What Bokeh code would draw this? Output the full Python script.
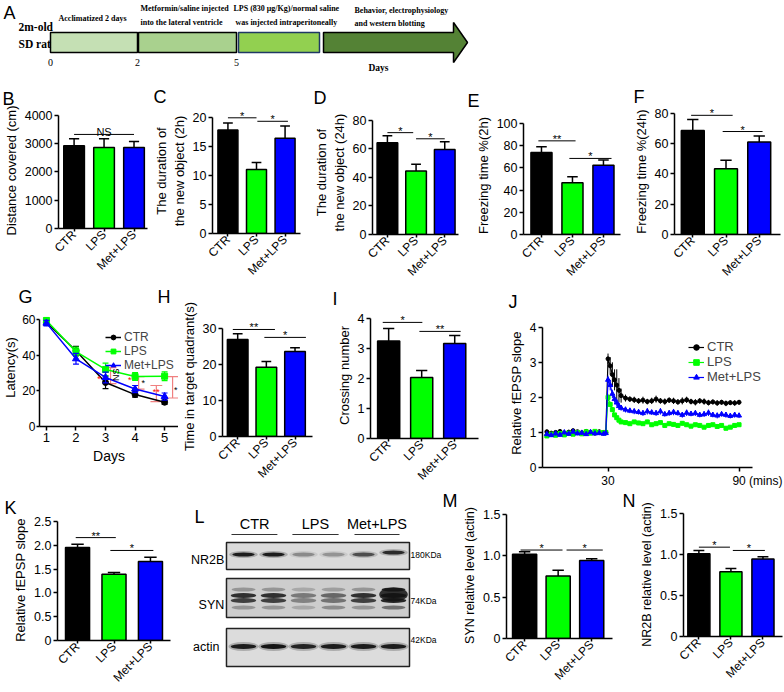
import math
from bokeh.plotting import figure
from bokeh.models import (Range1d, FixedTicker, Legend, LegendItem,
                          ColumnDataSource, CustomJSTickFormatter)
from bokeh.layouts import row, column
from bokeh.core.properties import value
from bokeh.embed import file_html
from bokeh.resources import INLINE

# ---------------------------------------------------------------- data
groups = ["CTR", "LPS", "Met+LPS"]
group_colors = ["#000000", "#00ff00", "#0000ff"]

B_mean = [2930, 2870, 2870]
B_err = [250, 310, 210]
B_sig_x0 = [1.0]; B_sig_x1 = [3.0]; B_sig_y = [3330]; B_sig_txt = ["NS"]

C_mean = [17.8, 11.0, 16.4]
C_err = [1.2, 1.2, 2.1]
C_sig_x0 = [1.0, 2.03]; C_sig_x1 = [2.0, 3.1]; C_sig_y = [19.9, 19.3]; C_sig_txt = ["*", "*"]

D_mean = [64.3, 44.4, 59.5]
D_err = [4.8, 4.8, 5.5]
D_sig_x0 = [1.0, 2.0]; D_sig_x1 = [1.9, 3.0]; D_sig_y = [71.3, 67.0]; D_sig_txt = ["*", "*"]

E_mean = [73.7, 46.5, 62.3]
E_err = [5.3, 5.5, 4.7]
E_sig_x0 = [0.9, 1.9]; E_sig_x1 = [2.1, 3.26]; E_sig_y = [84.2, 68.4]; E_sig_txt = ["**", "*"]

F_mean = [68.7, 43.4, 61.0]
F_err = [7.3, 5.6, 4.0]
F_sig_x0 = [0.95, 1.9]; F_sig_x1 = [2.2, 3.1]; F_sig_y = [78.7, 68.0]; F_sig_txt = ["*", "*"]

days = [1, 2, 3, 4, 5]
G_ctr = [58.3, 42.5, 24.7, 17.9, 13.6]
G_ctr_err = [1.5, 2.5, 3.5, 1.5, 1.2]
G_lps = [59.5, 42.0, 32.0, 28.0, 28.2]
G_lps_err = [1.5, 2.5, 3.5, 2.2, 2.5]
G_met = [58.0, 38.0, 27.5, 21.0, 16.8]
G_met_err = [1.5, 3.0, 3.0, 2.0, 2.0]
G_br_x = [3.17, 4.12, 4.72, 5.27]
G_br_lo = [24.0, 21.0, 14.0, 16.0]
G_br_hi = [33.0, 28.0, 23.0, 28.0]
G_red_x = [2.78, 3.82, 4.72]; G_red_y = [26.5, 26.0, 19.5]; G_red_txt = ["*", "*", "**"]
G_blk_x = [3.36, 4.28, 5.38]; G_blk_y = [29.0, 24.5, 20.5]; G_blk_txt = ["NS", "*", "*"]

H_mean = [26.9, 19.2, 23.6]
H_err = [1.6, 1.6, 1.0]
H_sig_x0 = [0.83, 1.93]; H_sig_x1 = [2.3, 3.38]; H_sig_y = [29.7, 27.5]; H_sig_txt = ["**", "*"]

I_mean = [3.25, 2.03, 3.17]
I_err = [0.42, 0.24, 0.26]
I_sig_x0 = [0.82, 1.93]; I_sig_x1 = [2.02, 3.18]; I_sig_y = [3.87, 3.57]; I_sig_txt = ["*", "**"]

J_t = [2, 4, 6, 8, 10, 12, 14, 16, 18, 20, 22, 24, 26, 28, 29, 30, 31, 32, 33, 34, 35, 36,
       38, 40, 42, 44, 46, 48, 50, 52, 54, 56, 58, 60, 62, 64, 66, 68, 70, 72, 74, 76, 78,
       80, 82, 84, 86, 88, 90]
J_ctr = [1.02, 0.98, 1.00, 1.03, 0.97, 1.01, 1.05, 1.02, 0.99, 1.03, 1.00, 0.98, 1.02, 1.00,
         1.00, 3.10, 2.90, 2.65, 2.50, 2.35, 2.20, 2.05,
         1.98, 1.95, 1.93, 1.90, 1.92, 1.88, 1.90, 1.95, 1.90, 1.88, 1.92, 1.90, 1.87, 1.90,
         1.93, 1.88, 1.86, 1.90, 1.88, 1.85, 1.87, 1.84, 1.86, 1.83, 1.85, 1.84, 1.86]
J_ctr_err = [0.06, 0.05, 0.06, 0.05, 0.06, 0.05, 0.06, 0.05, 0.06, 0.05, 0.06, 0.05, 0.06, 0.05,
             0.05, 0.15, 0.25, 0.35, 0.30, 0.45, 0.35, 0.20,
             0.10, 0.08, 0.09, 0.08, 0.10, 0.08, 0.09, 0.10, 0.08, 0.09, 0.08, 0.09, 0.08, 0.10,
             0.09, 0.08, 0.09, 0.08, 0.09, 0.08, 0.07, 0.08, 0.07, 0.08, 0.07, 0.08, 0.07]
J_lps = [0.90, 0.95, 0.92, 0.97, 0.93, 0.98, 0.95, 1.00, 0.96, 1.02, 0.98, 1.03, 1.00, 0.99,
         1.00, 2.00, 1.80, 1.65, 1.50, 1.42, 1.35, 1.30,
         1.28, 1.25, 1.30, 1.27, 1.25, 1.30, 1.22, 1.25, 1.28, 1.20, 1.25, 1.23, 1.20, 1.26,
         1.22, 1.18, 1.22, 1.20, 1.15, 1.20, 1.22, 1.17, 1.20, 1.12, 1.15, 1.20, 1.22]
J_lps_err = [0.05, 0.06, 0.05, 0.06, 0.05, 0.06, 0.05, 0.06, 0.05, 0.06, 0.05, 0.06, 0.05, 0.06,
             0.05, 0.10, 0.08, 0.07, 0.06, 0.06, 0.05, 0.05,
             0.05, 0.06, 0.05, 0.06, 0.05, 0.06, 0.05, 0.06, 0.05, 0.06, 0.05, 0.06, 0.05, 0.06,
             0.05, 0.06, 0.05, 0.06, 0.05, 0.06, 0.05, 0.06, 0.05, 0.06, 0.05, 0.06, 0.05]
J_met = [0.95, 0.92, 0.97, 0.93, 1.00, 0.96, 1.02, 0.97, 0.99, 0.95, 1.01, 0.97, 0.98, 0.96,
         0.98, 2.50, 2.35, 2.10, 1.95, 1.85, 1.75, 1.70,
         1.65, 1.62, 1.60, 1.58, 1.55, 1.60, 1.57, 1.55, 1.60, 1.52, 1.55, 1.58, 1.55, 1.50,
         1.56, 1.53, 1.55, 1.50, 1.52, 1.56, 1.50, 1.48, 1.52, 1.50, 1.47, 1.50, 1.48]
J_met_err = [0.06, 0.05, 0.06, 0.05, 0.06, 0.05, 0.06, 0.05, 0.06, 0.05, 0.06, 0.05, 0.06, 0.05,
             0.05, 0.12, 0.15, 0.12, 0.10, 0.10, 0.09, 0.08,
             0.08, 0.07, 0.08, 0.07, 0.08, 0.09, 0.07, 0.08, 0.09, 0.07, 0.08, 0.09, 0.07, 0.08,
             0.09, 0.07, 0.08, 0.07, 0.08, 0.09, 0.07, 0.08, 0.07, 0.08, 0.07, 0.08, 0.07]
J_ticks = [30, 90]

K_mean = [1.95, 1.39, 1.66]
K_err = [0.07, 0.04, 0.09]
K_sig_x0 = [0.95, 1.9]; K_sig_x1 = [2.05, 3.08]; K_sig_y = [2.16, 1.89]; K_sig_txt = ["**", "*"]

lanes = [1, 2, 3, 4, 5, 6]
blot_rows = ["NR2B", "SYN", "actin"]
blot_kda = ["180KDa", "74KDa", "42KDa"]
NR2B_int = [0.95, 0.95, 0.35, 0.30, 0.65, 0.85]
SYN_upper = [0.30, 0.30, 0.20, 0.25, 0.30, 0.90]
SYN_main = [0.85, 0.85, 0.45, 0.55, 0.85, 1.00]
SYN_lower = [0.30, 0.30, 0.20, 0.35, 0.30, 0.50]
actin_int = [0.95, 1.00, 0.90, 0.95, 0.95, 0.95]

M_mean = [1.02, 0.756, 0.944]
M_err = [0.03, 0.068, 0.02]
M_sig_x0 = [0.88, 2.25]; M_sig_x1 = [2.13, 3.33]; M_sig_y = [1.07, 1.07]; M_sig_txt = ["*", "*"]

N_mean = [1.01, 0.79, 0.945]
N_err = [0.04, 0.04, 0.028]
N_sig_x0 = [1.0, 2.06]; N_sig_x1 = [1.97, 3.06]; N_sig_y = [1.09, 1.05]; N_sig_txt = ["*", "*"]

# timeline (panel A) - schematic stages
stage_x0 = [50, 138, 238]
stage_x1 = [137, 236, 319]
stage_fill = ["#c5e0b4", "#a9d18e", "#92d050"]
stage_line = ["#000000", "#000000", "#1f3864"]
day_marks = ["0", "2", "5"]
stage_text = ["Acclimatized  2 days", "Metformin/saline  injected", "into the lateral ventricle",
              "LPS (830 \u03bcg/Kg)/normal  saline", "was injected intraperitoneally",
              "Behavior, electrophysiology", "and western blotting"]

# ---------------------------------------------------------------- helpers
FONT = "Liberation Sans"
NB = "\u00a0"
LETTER_PX = 18
LETTER_W = {"B": 12, "C": 13, "D": 13, "E": 12, "F": 11, "H": 13, "I": 5, "J": 9, "K": 12,
            "M": 15, "N": 13}


def make_fig(fig_box, frame_box, xrng, yrng, axes=True):
    xl, xr, yt, yb = fig_box
    fl, fr, ft, fb = frame_box
    kw = {}
    if not axes:
        kw = dict(x_axis_type=None, y_axis_type=None)
    p = figure(width=xr - xl, height=yb - yt,
               x_range=Range1d(*xrng), y_range=Range1d(*yrng),
               output_backend="svg", toolbar_location=None, tools="",
               min_border_left=fl - xl, min_border_right=xr - fr,
               min_border_top=ft - yt, min_border_bottom=yb - fb, **kw)
    p.outline_line_color = None
    p.frame_align = False
    if axes:
        p.xgrid.visible = False
        p.ygrid.visible = False
    return p


def style_axes(p, xlabel=None, ylabel=None, tick_fs="12.5px", ylabel_fs="13px"):
    for ax in (p.xaxis[0], p.yaxis[0]):
        ax.axis_line_color = "black"
        ax.axis_line_width = 1.5
        ax.major_tick_line_color = "black"
        ax.major_tick_line_width = 1.5
        ax.major_tick_in = 0
        ax.major_tick_out = 4
        ax.minor_tick_line_color = None
        ax.major_label_text_font = FONT
        ax.major_label_text_font_size = tick_fs
        ax.major_label_text_color = "black"
        ax.major_label_standoff = 2
        ax.axis_label_text_font = FONT
        ax.axis_label_text_font_size = "13px"
        ax.axis_label_text_font_style = "normal"
        ax.axis_label_text_color = "black"
        ax.axis_label_standoff = 3
    p.yaxis.axis_label_text_font_size = ylabel_fs
    p.xaxis.axis_label = xlabel
    p.yaxis.axis_label = ylabel


def set_letter(p, fig_box, frame_box, txt, lx, ltop, right_w=None):
    """Panel letter as a right-aligned title; lx/ltop = left/cap-top of the letter."""
    xl, xr, yt, yb = fig_box
    fl, fr, ft, fb = frame_box
    w = right_w if right_w is not None else LETTER_W[txt]
    border = ft - yt
    p.title.text = txt
    p.title.text_font = FONT
    p.title.text_font_size = "%dpx" % LETTER_PX
    p.title.text_font_style = "normal"
    p.title.text_color = "black"
    p.title.align = "right"
    p.title.vertical_align = "top"
    p.title.offset = fr - (lx + w)
    want = 2 * (ft - 18.6 - ltop)
    p.title.standoff = int(max(0, min(want, border - 22)))


def add_sig(p, x0, x1, y, txt):
    mid = [(a + b) / 2 for a, b in zip(x0, x1)]
    p.segment(x0=x0, y0=y, x1=x1, y1=y, line_color="black", line_width=1)
    p.text(x=mid, y=y, text=txt, text_font=value(FONT), text_font_size="11px",
           text_align="center", text_baseline="alphabetic", y_offset=-2, text_color="black")


def bar_panel(fig_box, frame_box, xrng, yrng, yticks, ylabel, mean, err,
              sx0, sx1, sy_, stxt, letter=None, width=0.7, decimal=False, ylabel_fs="13px"):
    p = make_fig(fig_box, frame_box, xrng, yrng)
    xs = [1, 2, 3]
    up = [m + e for m, e in zip(mean, err)]
    cw = 0.17
    p.segment(x0=xs, y0=mean, x1=xs, y1=up, line_color="black", line_width=1.5)
    p.segment(x0=[x - cw for x in xs], y0=up, x1=[x + cw for x in xs], y1=up,
              line_color="black", line_width=1.5)
    src = ColumnDataSource(dict(x=xs, top=mean, color=group_colors))
    p.vbar(x="x", top="top", bottom=0, width=width, fill_color="color",
           line_color="black", line_width=1.5, source=src)
    add_sig(p, sx0, sx1, sy_, stxt)
    style_axes(p, ylabel=ylabel, ylabel_fs=ylabel_fs)
    p.xaxis.ticker = FixedTicker(ticks=xs)
    p.xaxis.formatter = CustomJSTickFormatter(args=dict(labels=groups),
                                              code="return labels[Math.round(tick) - 1] || '';")
    p.xaxis.major_label_orientation = math.pi / 4
    p.xaxis.major_label_text_font_size = "12px"
    p.xaxis.major_label_standoff = 1
    p.xaxis.major_tick_out = 3
    p.yaxis.ticker = FixedTicker(ticks=yticks)
    p.yaxis.bounds = (0, yticks[-1])
    if decimal:
        p.yaxis.formatter = CustomJSTickFormatter(code="return tick == 0 ? '0' : tick.toFixed(1);")
    if letter:
        set_letter(p, fig_box, frame_box, *letter)
    return p


# ---------------------------------------------------------------- panel A
A_box = (0, 784, 0, 86)
pA = make_fig(A_box, A_box, (0, 784), (0, 86), axes=False)
pA.quad(left=stage_x0, right=stage_x1, bottom=34, top=54, fill_color=stage_fill,
        line_color=stage_line, line_width=1.5)
pA.patch(x=[323, 453, 453, 467, 453, 453, 323], y=[34, 34, 24, 44, 64, 54, 54],
         fill_color="#548235", line_color="black", line_width=1.5)
SERIF = value("Liberation Serif")
pA.text(x=[18, 18], y=[60, 43], text=["2m-old", "SD rat"], text_font=SERIF,
        text_font_style="bold", text_font_size="11.5px", text_baseline="middle")
pA.text(x=[stage_x0[0], stage_x1[0], stage_x1[1]], y=[24, 24, 24], text=day_marks,
        text_font=SERIF, text_font_size="10px", text_align="center", text_baseline="middle")
pA.text(x=[378], y=[19], text=["Days"], text_font=SERIF, text_font_style="bold",
        text_font_size="9.5px", text_align="center", text_baseline="middle")
pA.text(x=[58, 140, 140, 233, 235, 354, 354], y=[68, 78, 64, 78, 64, 76, 63], text=stage_text,
        text_font=SERIF, text_font_style="bold", text_font_size="8px", text_baseline="middle")
pA.text(x=[3], y=[84], text=["A"], text_font=value(FONT), text_font_size="18px",
        text_baseline="top")

# ---------------------------------------------------------------- row 2
R2 = (86, 286)
B_box = (0, 150) + R2
B_frame = (52, 147, 112, 228)
pB = bar_panel(B_box, B_frame, (0.48, 3.45), (0, 4106), [0, 1000, 2000, 3000, 4000],
               "Distance covered (cm)", B_mean, B_err, B_sig_x0, B_sig_x1, B_sig_y, B_sig_txt,
               letter=("B", 2, 90), width=0.69)
C_box = (150, 310) + R2
C_frame = (203, 300, 106, 233)
pC = bar_panel(C_box, C_frame, (0.46, 3.54), (0, 21.5), [0, 5, 10, 15, 20],
               "The duration of\nthe new object (2h)", C_mean, C_err, C_sig_x0, C_sig_x1,
               C_sig_y, C_sig_txt, letter=("C", 153, 89))
D_box = (310, 463) + R2
D_frame = (362, 458, 110, 237)
pD = bar_panel(D_box, D_frame, (0.48, 3.48), (0, 86.8), [0, 20, 40, 60, 80],
               "The duration of\nthe new object (24h)", D_mean, D_err, D_sig_x0, D_sig_x1,
               D_sig_y, D_sig_txt, letter=("D", 313, 90), width=0.72)
E_box = (463, 630) + R2
E_frame = (523, 620, 116, 237)
pE = bar_panel(E_box, E_frame, (0.42, 3.55), (0, 106.1), [0, 20, 40, 60, 80, 100],
               "Freezing time %(2h)", E_mean, E_err, E_sig_x0, E_sig_x1, E_sig_y, E_sig_txt,
               letter=("E", 467, 90), width=0.68)
F_box = (630, 784) + R2
F_frame = (673, 780, 106, 238)
pF = bar_panel(F_box, F_frame, (0.45, 3.64), (0, 83.2), [0, 20, 40, 60, 80],
               "Freezing time %(24h)", F_mean, F_err, F_sig_x0, F_sig_x1, F_sig_y, F_sig_txt,
               letter=("F", 633, 90), width=0.69)

# ---------------------------------------------------------------- row 3
R3 = (286, 490)
G_box = (0, 178) + R3
G_frame = (38, 178, 308, 426)
pG = make_fig(G_box, G_frame, (0.765, 5.47), (0, 66.2))
BR = "#f08080"
pG.segment(x0=G_br_x, y0=G_br_lo, x1=G_br_x, y1=G_br_hi, line_color=BR, line_width=1.2)
pG.segment(x0=[x - 0.2 for x in G_br_x], y0=G_br_lo, x1=[x + 0.2 for x in G_br_x], y1=G_br_lo,
           line_color=BR, line_width=1.2)
pG.segment(x0=[x - 0.2 for x in G_br_x], y0=G_br_hi, x1=[x + 0.2 for x in G_br_x], y1=G_br_hi,
           line_color=BR, line_width=1.2)
g_items = []
for name, vals, errs, color, marker, size in [
        ("CTR", G_ctr, G_ctr_err, "#000000", "circle", 6),
        ("LPS", G_lps, G_lps_err, "#00ff00", "square", 6),
        ("Met+LPS", G_met, G_met_err, "#0000ff", "triangle", 7)]:
    lo = [v - e for v, e in zip(vals, errs)]
    hi = [v + e for v, e in zip(vals, errs)]
    pG.segment(x0=days, y0=lo, x1=days, y1=hi, line_color=color, line_width=1.2)
    pG.segment(x0=[d - 0.1 for d in days], y0=hi, x1=[d + 0.1 for d in days], y1=hi,
               line_color=color, line_width=1.2)
    pG.segment(x0=[d - 0.1 for d in days], y0=lo, x1=[d + 0.1 for d in days], y1=lo,
               line_color=color, line_width=1.2)
    lr = pG.line(days, vals, line_color=color, line_width=1.5)
    sr = pG.scatter(days, vals, marker=marker, size=size, fill_color=color, line_color=color)
    g_items.append(LegendItem(label=name, renderers=[lr, sr]))
pG.text(x=G_red_x, y=G_red_y, text=G_red_txt, text_font=value(FONT), text_font_size="9px",
        text_color="#ff0000", text_align="center", text_baseline="middle")
pG.text(x=G_blk_x, y=G_blk_y, text=G_blk_txt, text_font=value(FONT), text_font_size="9px",
        text_color="black", text_align="center", text_baseline="middle",
        angle=[math.pi / 2, 0, 0])
legG = Legend(items=g_items, location=(104 - 38, 426 - 372),
              border_line_color=None, background_fill_alpha=0, padding=0, spacing=0, margin=0,
              label_text_font=FONT, label_text_font_size="12px", glyph_width=16,
              glyph_height=12, label_height=12, label_standoff=3)
pG.add_layout(legG)
style_axes(pG, xlabel="Days", ylabel="Latency(s)", tick_fs="12px")
pG.xaxis.major_label_text_font_size = "13px"
pG.xaxis.axis_label_text_font_size = "14px"
pG.yaxis.major_tick_out = 3
pG.yaxis.major_label_standoff = 1
pG.yaxis.axis_label_standoff = 1
pG.xaxis.ticker = FixedTicker(ticks=days)
pG.yaxis.ticker = FixedTicker(ticks=[0, 20, 40, 60])
pG.yaxis.bounds = (0, 60)
# letters G and H share the top strip of this figure (H sits above panel H)
set_letter(pG, G_box, G_frame, "G" + NB * 25 + "H", 157, 288, right_w=LETTER_W["H"])

H_frame = (217, 312, 316, 436)
pH = bar_panel((178, 330) + R3, H_frame, (0.47, 3.61), (0, 33.3), [0, 10, 20, 30],
               "Time in target quadrant(s)", H_mean, H_err, H_sig_x0, H_sig_x1, H_sig_y,
               H_sig_txt, width=0.72)
I_box = (330, 500) + R3
I_frame = (370, 478, 312, 438)
pI = bar_panel(I_box, I_frame, (0.45, 3.72), (0, 4.2), [0, 1, 2, 3, 4],
               "Crossing number", I_mean, I_err, I_sig_x0, I_sig_x1, I_sig_y, I_sig_txt,
               letter=("I", 332, 289), width=0.67)

J_box = (500, 784) + R3
J_frame = (542, 770, 318, 470)
pJ = make_fig(J_box, J_frame, (0, 104.4), (0, 4.25))
j_items = []
for name, vals, errs, color, marker, size in [
        ("CTR", J_ctr, J_ctr_err, "#000000", "circle", 4),
        ("LPS", J_lps, J_lps_err, "#00ff00", "square", 4),
        ("Met+LPS", J_met, J_met_err, "#0000ff", "triangle", 5)]:
    lo = [v - e for v, e in zip(vals, errs)]
    hi = [v + e for v, e in zip(vals, errs)]
    pJ.segment(x0=J_t, y0=lo, x1=J_t, y1=hi, line_color=color, line_width=1)
    lr = pJ.line(J_t, vals, line_color=color, line_width=1.2)
    sr = pJ.scatter(J_t, vals, marker=marker, size=size, fill_color=color, line_color=color)
    j_items.append(LegendItem(label=name, renderers=[lr, sr]))
legJ = Legend(items=j_items, location=(688 - 542, 470 - 387),
              border_line_color=None, background_fill_alpha=0, padding=0, spacing=0, margin=0,
              label_text_font=FONT, label_text_font_size="13px", glyph_width=16,
              glyph_height=14, label_height=14, label_standoff=3)
pJ.add_layout(legJ)
style_axes(pJ, ylabel="Relative fEPSP slope", tick_fs="12px")
pJ.xaxis.ticker = FixedTicker(ticks=J_ticks)
pJ.xaxis.formatter = CustomJSTickFormatter(
    args=dict(pad=NB * 11),
    code="return tick >= 90 ? pad + tick.toFixed(0) + ' (mins)' : tick.toFixed(0);")
pJ.xaxis.bounds = (0, 96)
pJ.yaxis.ticker = FixedTicker(ticks=[0, 1, 2, 3, 4])
pJ.yaxis.bounds = (0, 4)
set_letter(pJ, J_box, J_frame, "J", 508, 293)

# ---------------------------------------------------------------- row 4
R4 = (490, 692)
K_box = (0, 185) + R4
K_frame = (57, 170, 519, 640)
pK = bar_panel(K_box, K_frame, (0.45, 3.55), (0, 2.54), [0, 0.5, 1.0, 1.5, 2.0, 2.5],
               "Relative fEPSP slope", K_mean, K_err, K_sig_x0, K_sig_x1, K_sig_y, K_sig_txt,
               letter=("K", 4, 500), width=0.66, decimal=True)

L_box = (185, 442, 490, 692)
pL = make_fig(L_box, L_box, (-0.933, 7.633), (0, 202), axes=False)
box_bottom = [123, 75, 26]
box_top = [150, 114, 64]
box_fill = ["#dadada", "#cdcdcd", "#dcdcdc"]
pL.quad(left=0.433, right=6.533, bottom=box_bottom, top=box_top, fill_color=box_fill,
        line_color="#222222", line_width=1.5)
BAND = "#141414"
pL.ellipse(x=lanes, y=[138, 138, 138, 138, 138, 140], width=0.95, height=7, fill_color=BAND,
           fill_alpha=[v * 0.25 for v in NR2B_int], line_color=None)
pL.ellipse(x=lanes, y=[138, 138, 138, 138, 138, 140], width=0.75, height=4, fill_color=BAND,
           fill_alpha=NR2B_int, line_color=None)
pL.ellipse(x=lanes, y=103, width=0.8, height=4, fill_color=BAND, fill_alpha=SYN_upper,
           line_color=None)
pL.ellipse(x=lanes, y=97, width=0.85, height=5, fill_color=BAND, fill_alpha=SYN_main,
           line_color=None)
pL.ellipse(x=lanes, y=92, width=0.85, height=5, fill_color=BAND,
           fill_alpha=[v * 0.9 for v in SYN_main], line_color=None)
pL.ellipse(x=lanes, y=85, width=0.8, height=4, fill_color=BAND, fill_alpha=SYN_lower,
           line_color=None)
pL.ellipse(x=lanes[5:], y=98, width=0.95, height=14, fill_color=BAND, fill_alpha=0.85,
           line_color=None)
pL.ellipse(x=lanes, y=46, width=1.0, height=9, fill_color=BAND,
           fill_alpha=[v * 0.25 for v in actin_int], line_color=None)
pL.ellipse(x=lanes, y=46, width=0.85, height=5, fill_color=BAND, fill_alpha=actin_int,
           line_color=None)
pL.segment(x0=[0.6, 2.63, 4.7], y0=158, x1=[2.13, 4.17, 6.2], y1=158, line_color="#333333",
           line_width=1.2)
pL.text(x=[1.37, 3.4, 5.45], y=169, text=groups, text_font=value(FONT),
        text_font_size="14.5px", text_align="center", text_baseline="middle")
pL.text(x=[0.36, 0.36, 0.2], y=[133, 88, 46], text=blot_rows, text_font=value(FONT),
        text_font_size="12.5px", text_align="right", text_baseline="middle")
pL.text(x=6.57, y=[138, 92, 53], text=blot_kda, text_font=value(FONT), text_font_size="8.5px",
        text_align="left", text_baseline="middle")
pL.text(x=[-0.63], y=[176], text=["L"], text_font=value(FONT), text_font_size="18px",
        text_align="left", text_baseline="alphabetic")

# one blank outer line widens the y-axis panel so the panel letter can sit further left
M_box = (442, 615) + R4
M_frame = (506, 612, 511, 638)
pM = bar_panel(M_box, M_frame, (0.46, 3.62), (0, 1.524), [0, 0.5, 1.0, 1.5],
               NB + "\nSYN relative level (actin)", M_mean, M_err, M_sig_x0,
               M_sig_x1, M_sig_y, M_sig_txt, letter=("M", 442, 492), width=0.72, decimal=True,
               ylabel_fs="12.5px")
pM.yaxis.axis_label_text_line_height = 1.0
N_box = (615, 784) + R4
N_frame = (683, 782, 510, 636)
pN = bar_panel(N_box, N_frame, (0.52, 3.61), (0, 1.513), [0, 0.5, 1.0, 1.5],
               NB + "\nNR2B relative level (actin)", N_mean, N_err, N_sig_x0,
               N_sig_x1, N_sig_y, N_sig_txt, letter=("N", 622, 492), width=0.69, decimal=True,
               ylabel_fs="12.5px")
pN.yaxis.axis_label_text_line_height = 1.0

layout = column(row(pA), row(pB, pC, pD, pE, pF), row(pG, pH, pI, pJ), row(pK, pL, pM, pN))
with open("out.html", "w", encoding="utf-8") as f:
    f.write(file_html(layout, INLINE))
